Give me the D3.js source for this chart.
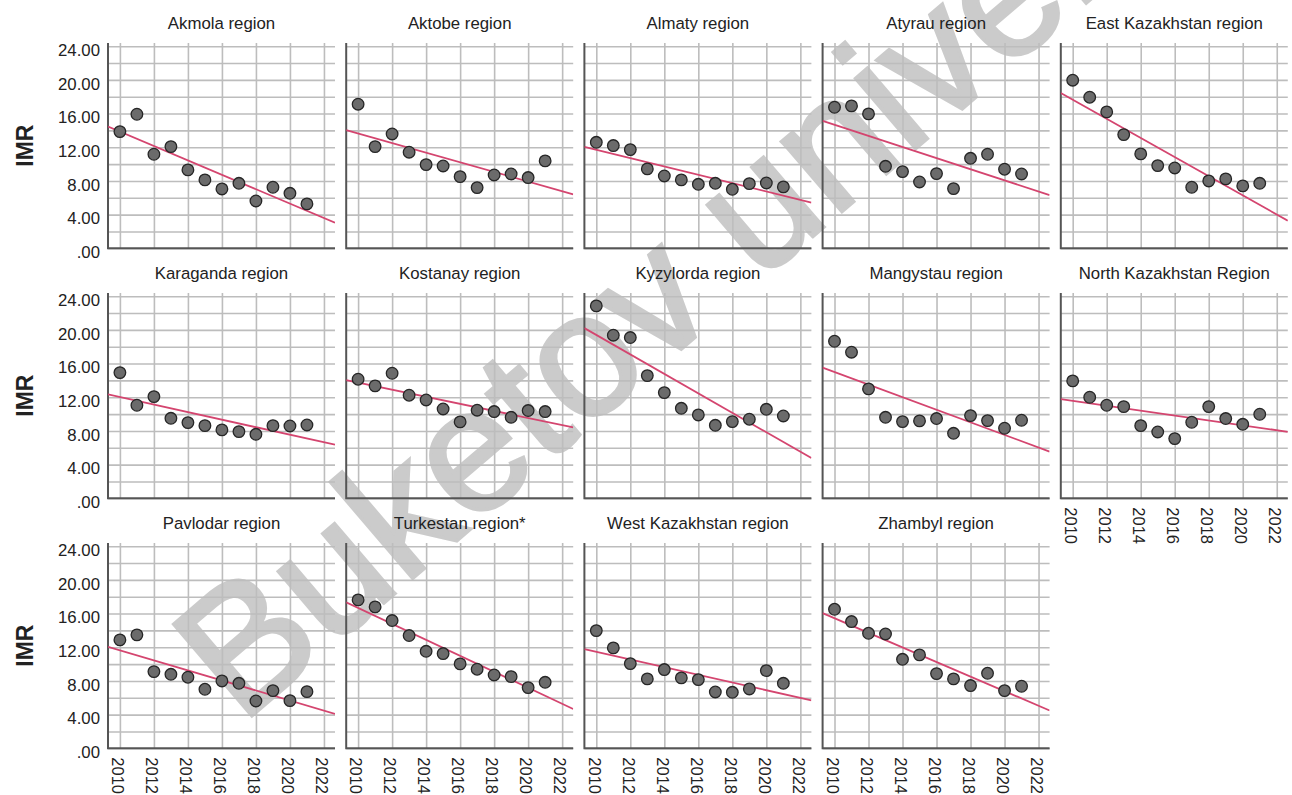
<!DOCTYPE html>
<html>
<head>
<meta charset="utf-8">
<script src="https://cdn.jsdelivr.net/npm/d3@7"></script>
<style>
	body { margin: 0; background: #fff; }
	text { font-family: "Liberation Sans", Arial, sans-serif; }
</style>
</head>
<body>
<svg id="chart"></svg>
<script>
// years on the x axis, one value per year for every region
var years = [2010, 2011, 2012, 2013, 2014, 2015, 2016, 2017, 2018, 2019, 2020, 2021];

var regionNames = ["Akmola region", "Aktobe region", "Almaty region", "Atyrau region", "East Kazakhstan region",
	"Karaganda region", "Kostanay region", "Kyzylorda region", "Mangystau region", "North Kazakhstan Region",
	"Pavlodar region", "Turkestan region*", "West Kazakhstan region", "Zhambyl region"];

var akmola       = [13.86, 15.92, 11.17, 12.08, 9.31, 8.12, 7.05, 7.72, 5.62, 7.25, 6.53, 5.27];
var aktobe       = [17.11, 12.08, 13.58, 11.41, 9.94, 9.78, 8.51, 7.21, 8.71, 8.83, 8.40, 10.38];
var almaty       = [12.59, 12.20, 11.72, 9.43, 8.59, 8.12, 7.60, 7.72, 7.01, 7.68, 7.76, 7.29];
var atyrau       = [16.75, 16.91, 15.96, 9.74, 9.11, 7.88, 8.87, 7.09, 10.69, 11.17, 9.39, 8.83];
var eastKaz      = [19.96, 17.94, 16.20, 13.50, 11.21, 9.82, 9.54, 7.25, 8.00, 8.24, 7.41, 7.72];
var karaganda    = [14.93, 11.05, 12.08, 9.50, 8.99, 8.63, 8.12, 7.92, 7.60, 8.63, 8.59, 8.71];
var kostanay     = [14.14, 13.35, 14.85, 12.24, 11.68, 10.61, 9.07, 10.46, 10.30, 9.62, 10.42, 10.30];
var kyzylorda    = [22.85, 19.37, 19.09, 14.57, 12.55, 10.69, 9.90, 8.67, 9.11, 9.39, 10.57, 9.78];
var mangystau    = [18.65, 17.35, 12.99, 9.62, 9.11, 9.19, 9.47, 7.72, 9.82, 9.23, 8.32, 9.27];
var northKaz     = [13.94, 12.00, 11.05, 10.89, 8.63, 7.88, 7.09, 9.03, 10.89, 9.47, 8.79, 9.98];
var pavlodar     = [12.87, 13.47, 9.11, 8.79, 8.44, 7.01, 8.00, 7.72, 5.62, 6.85, 5.66, 6.73];
var turkestan    = [17.62, 16.79, 15.17, 13.39, 11.52, 11.25, 10.02, 9.39, 8.71, 8.51, 7.21, 7.84];
var westKaz      = [13.98, 11.92, 10.06, 8.24, 9.35, 8.36, 8.16, 6.69, 6.65, 7.05, 9.23, 7.72];
var zhambyl      = [16.51, 15.05, 13.66, 13.58, 10.57, 11.09, 8.87, 8.24, 7.45, 8.91, 6.85, 7.37];

var yTicks = [0, 4, 8, 12, 16, 20, 24];
var yGrid  = [0, 2, 4, 6, 8, 10, 12, 14, 16, 18, 20, 22, 24];
var xTicks = [2010, 2012, 2014, 2016, 2018, 2020, 2022];

var seriesList = [akmola, aktobe, almaty, atyrau, eastKaz, karaganda, kostanay, kyzylorda,
	mangystau, northKaz, pavlodar, turkestan, westKaz, zhambyl];

var panels = regionNames.map(function(name, i) {
	return { name: name, values: seriesList[i], col: i % 5, row: Math.floor(i / 5) };
});

var width = 1292,
	height = 795;

var panelW = 227,
	panelH = 205.3,
	colStep = 238.2,
	rowStep = 250,
	left0 = 108,
	top0 = 43;

var gridColor = "#bdbdbd";
var axisColor = "#555555";
var dotFill   = "#6b6b6b";
var fitColor  = "#d4456f";

var svg = d3.select("#chart")
	.attr("width", width)
	.attr("height", height);

// watermark sits underneath everything
svg.append("text")
	.attr("transform", "translate(241,725) rotate(-40.5)")
	.attr("font-size", 175)
	.attr("fill", "#cbcbcb")
	.attr("stroke", "#cbcbcb")
	.attr("stroke-width", 3.5)
	.text("Buketov university");

var x = d3.scaleLinear().domain([2009.3, 2022.65]).range([0, panelW]);
var y = d3.scaleLinear().domain([0, 24.38]).range([panelH, 0]);

function yFormat(d) {
	return d === 0 ? ".00" : d3.format(".2f")(d);
}

// least squares line through a panel's points
function fitLine(values) {
	var mx = d3.mean(years), my = d3.mean(values);
	var sxy = 0, sxx = 0;
	years.forEach(function(yr, i) {
		sxy += (yr - mx) * (values[i] - my);
		sxx += (yr - mx) * (yr - mx);
	});
	var b = sxy / sxx;
	return x.domain().map(function(xv) {
		return [xv, my + b * (xv - mx)];
	});
}

svg.append("defs").append("clipPath")
	.attr("id", "plotClip")
	.append("rect")
	.attr("width", panelW)
	.attr("height", panelH);

panels.forEach(function(p) {
	var g = svg.append("g")
		.attr("transform", "translate(" + (left0 + p.col * colStep) + "," + (top0 + p.row * rowStep) + ")");

	// title
	g.append("text")
		.attr("x", panelW / 2)
		.attr("y", -14.5)
		.attr("text-anchor", "middle")
		.attr("font-size", 16.8)
		.attr("fill", "#222")
		.text(p.name);

	// horizontal grid
	var gy = g.append("g")
		.call(d3.axisLeft(y).tickValues(yGrid).tickSize(-panelW).tickFormat(""));
	gy.select(".domain").remove();
	gy.selectAll("line").attr("stroke", gridColor).attr("stroke-width", 1.6);

	// vertical grid
	var gx = g.append("g")
		.attr("transform", "translate(0," + panelH + ")")
		.call(d3.axisBottom(x).tickValues(xTicks).tickSize(-panelH).tickFormat(""));
	gx.select(".domain").remove();
	gx.selectAll("line").attr("stroke", gridColor).attr("stroke-width", 1.6);

	// left and bottom frame lines
	g.append("path")
		.attr("d", "M0,0V" + panelH + "H" + panelW)
		.attr("fill", "none")
		.attr("stroke", axisColor)
		.attr("stroke-width", 2);

	// y labels only in first column
	if (p.col === 0) {
		var ay = g.append("g")
			.call(d3.axisLeft(y).tickValues(yTicks).tickSize(0).tickPadding(8).tickFormat(yFormat));
		ay.select(".domain").remove();
		ay.selectAll("text")
			.attr("font-size", 16.8)
			.attr("font-family", null)
			.attr("fill", "#222")
			.attr("dy", "0.55em");

		g.append("text")
			.attr("transform", "translate(" + (33 - left0) + "," + (panelH / 2) + ") rotate(-90)")
			.attr("text-anchor", "middle")
			.attr("font-size", 23)
			.attr("font-weight", "bold")
			.attr("fill", "#222")
			.text("IMR");
	}

	// x labels on the lowest panel of each column
	if (p.row === 2 || (p.row === 1 && p.col === 4)) {
		var ax = g.append("g")
			.attr("transform", "translate(0," + panelH + ")")
			.call(d3.axisBottom(x).tickValues(xTicks).tickSize(0).tickFormat(d3.format("d")));
		ax.select(".domain").remove();
		ax.selectAll("text")
			.attr("font-size", 16.5)
			.attr("font-family", null)
			.attr("fill", "#222")
			.attr("text-anchor", "start")
			.attr("transform", "rotate(90)")
			.attr("x", 9)
			.attr("y", 0)
			.attr("dy", "0.5em");
	}

	var plot = g.append("g").attr("clip-path", "url(#plotClip)");

	plot.append("path")
		.datum(fitLine(p.values))
		.attr("d", d3.line()
			.x(function(d) { return x(d[0]); })
			.y(function(d) { return y(d[1]); }))
		.attr("fill", "none")
		.attr("stroke", fitColor)
		.attr("stroke-width", 1.8);

	g.selectAll("circle")
		.data(p.values)
		.enter()
		.append("circle")
		.attr("cx", function(d, i) { return x(years[i]); })
		.attr("cy", function(d) { return y(d); })
		.attr("r", 5.8)
		.attr("fill", dotFill)
		.attr("stroke", "#262626")
		.attr("stroke-width", 1.3);
});
</script>
</body>
</html>
